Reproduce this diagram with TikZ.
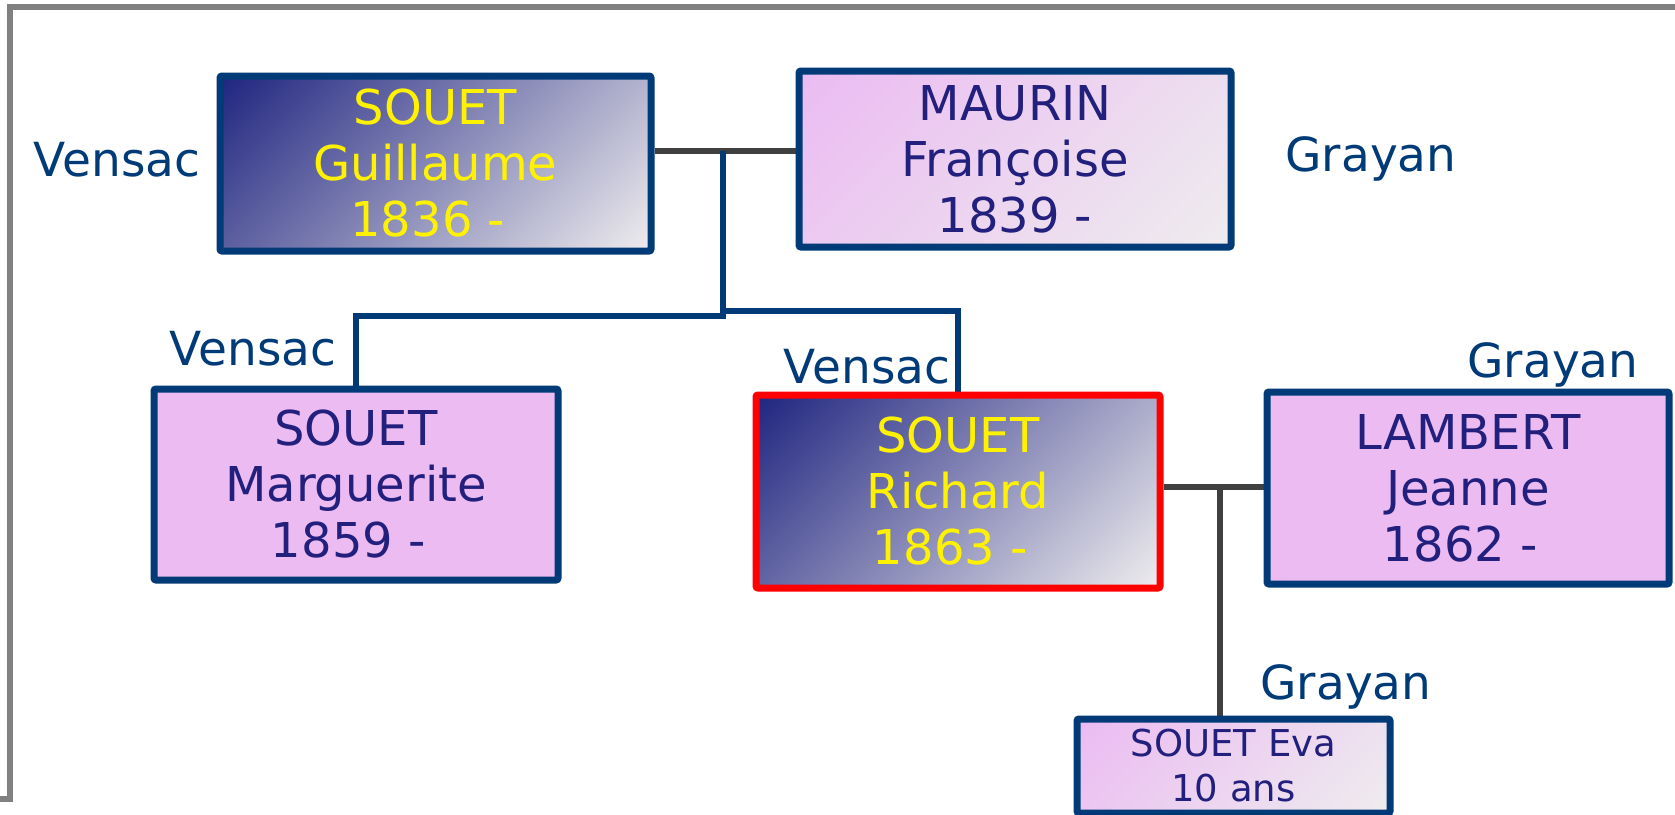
\documentclass[tikz,border=0pt]{standalone}
\usepackage{fontspec}
\setmainfont{DejaVu Sans}
\usetikzlibrary{backgrounds}
\definecolor{bordblue}{RGB}{0,59,119}
\definecolor{namenavy}{RGB}{35,32,125}
\definecolor{pinkfill}{RGB}{235,187,242}
\definecolor{palegray}{RGB}{238,236,238}
\definecolor{deepnavy}{RGB}{33,38,128}
\definecolor{linegray}{RGB}{64,64,64}
\definecolor{framegray}{RGB}{128,128,128}
\pgfdeclareverticalshading{navyfade}{100bp}{color(0bp)=(palegray); color(15bp)=(palegray); color(85bp)=(deepnavy); color(100bp)=(deepnavy)}
\pgfdeclareverticalshading{pinkfade}{100bp}{color(0bp)=(palegray); color(15bp)=(palegray); color(85bp)=(pinkfill); color(100bp)=(pinkfill)}
\newcommand{\tailsp}{\kern0.32em}
\begin{document}
\begin{tikzpicture}[x=1pt,y=-1pt,
  box/.style={draw=bordblue,line width=7pt,rounded corners=2pt,inner sep=0pt,align=center,text=namenavy,font=\fontsize{48}{56}\selectfont},
  pinkbox/.style={box,fill=pinkfill},
  fadebox/.style={box,shade,shading=pinkfade,shading angle=45},
  rootbox/.style={box,shade,shading=navyfade,shading angle=45,text=yellow},
  place/.style={text=bordblue,inner sep=0pt,anchor=base,font=\fontsize{47}{56}\selectfont},
  spouse/.style={draw=linegray,line width=6.5pt},
  kin/.style={draw=bordblue,line width=6pt}]
\useasboundingbox (0,0) rectangle (1675,814);
%Parents
\node (guil) at (435.5,163.5) [rootbox,minimum width=431,minimum height=175] {SOUET\\Guillaume\\1836 -\tailsp};
\node (maur) at (1015,159) [fadebox,minimum width=432,minimum height=176] {MAURIN\\Françoise\\1839 -};
\node at (117,176) [place] {Vensac};
\node at (1371,171) [place] {Grayan};

%Children
\node (marg) at (356,484.5) [pinkbox,minimum width=404,minimum height=191] {SOUET\\Marguerite\\1859 -\tailsp};
\node (rich) at (958,491.5) [rootbox,draw=red,minimum width=404,minimum height=193] {SOUET\\Richard\\1863 -\tailsp};
\node (lamb) at (1468,488) [pinkbox,minimum width=402,minimum height=192] {LAMBERT\\Jeanne\\1862 -\tailsp};
\node at (253,365) [place] {Vensac};
\node at (867,383) [place] {Vensac};
\node at (1553,377) [place] {Grayan};

%Grandchild
\node (eva) at (1233.5,766) [fadebox,minimum width=313,minimum height=94,font=\fontsize{37}{45}\selectfont] {SOUET Eva\\10 ans};
\node at (1346,699) [place] {Grayan};

\coordinate (gm) at (723,151);
\coordinate (kidL) at (723,316);
\coordinate (kidR) at (723,311);
\coordinate (rl) at (1220,487);
\begin{scope}[on background layer]
\draw[framegray,line width=6pt] (0,799) -- (10,799) -- (10,7) -- (1675,7);
\draw[spouse] (guil.east |- gm) -- (maur.west |- gm);
\draw[kin] (gm) -- (kidL) -| (marg.north);
\draw[kin] (kidR) -| (rich.north);
\draw[spouse] (rich.east |- rl) -- (lamb.west |- rl);
\draw[spouse] (rl) -- (eva.north -| rl);
\end{scope}
\end{tikzpicture}
\end{document}
